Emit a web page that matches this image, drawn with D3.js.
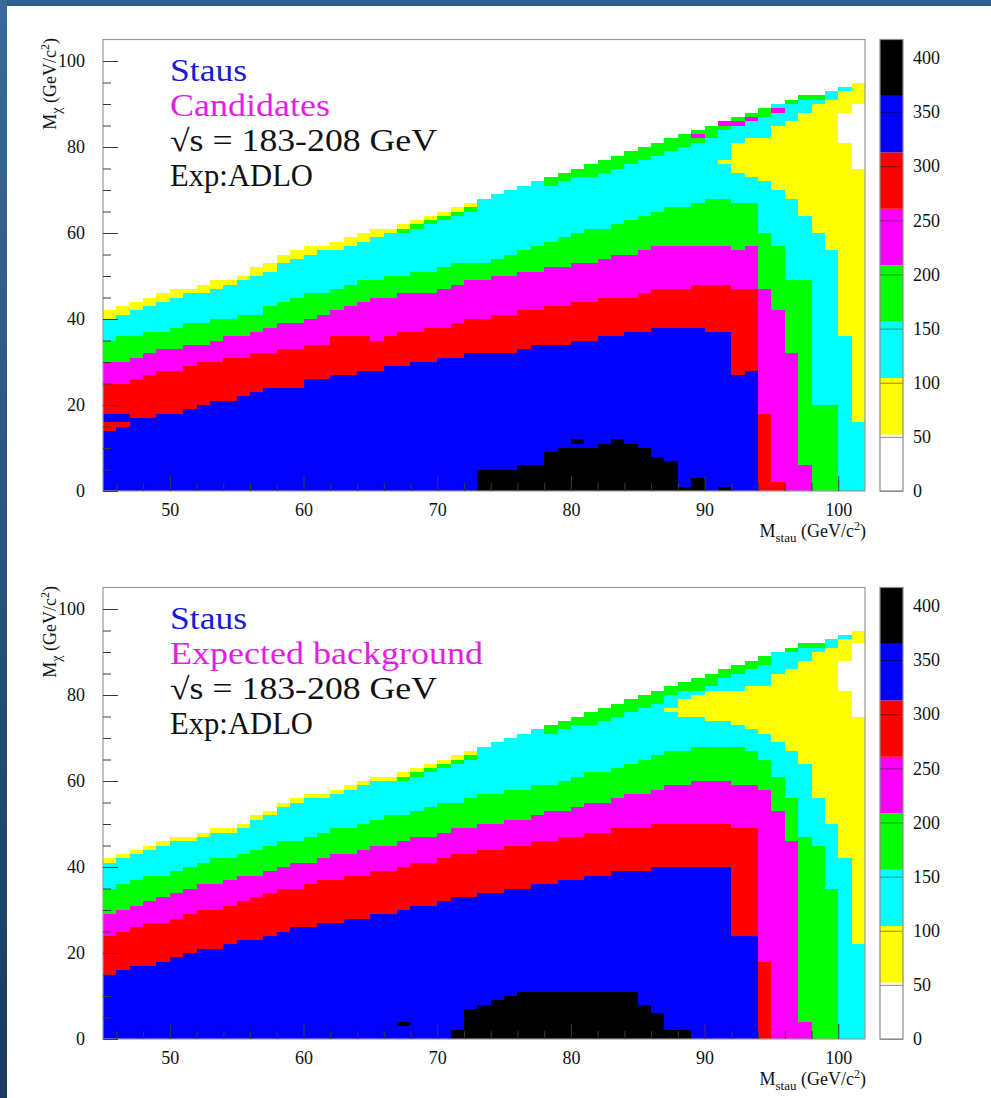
<!DOCTYPE html>
<html><head><meta charset="utf-8">
<script src="https://cdn.jsdelivr.net/npm/d3@7"></script>
<style>
html,body{margin:0;padding:0;background:#fff;}
body{width:991px;height:1098px;overflow:hidden;}
svg{display:block;}
text{font-family:"Liberation Serif","Times New Roman",serif;}
</style></head><body>
<svg id="chart" width="991" height="1098"></svg>
<script>
// ---------- DATA ----------
const binLow = [45,46,47,48,49,50,51,52,53,54,55,56,57,58,59,60,61,62,63,64,65,66,67,68,69,70,71,72,73,74,75,76,77,78,79,80,81,82,83,84,85,86,87,88,89,90,91,92,93,94,95,96,97,98,99,100,101];
const xTicks = [50,60,70,80,90,100];
const yTicks = [0,20,40,60,80,100];
const zTicks = [0,50,100,150,200,250,300,350,400];
const zLevels = [0,52.1,104.3,156.4,208.5,260.6,312.8,364.9,417];
const levelColors = ["#ffffff","#ffff00","#00ffff","#00ff00","#ff00ff","#ff0000","#0000ff","#000000"];

// Candidates panel: top (in GeV/c^2) of each colour band, per 1 GeV M_stau bin
const candBlack  = [0,0,0,0,0,0,0,0,0,0,0,0,0,0,0,0,0,0,0,0,0,0,0,0,0,0,0,0,5,5,5,6,6,9,10,10,10,11,12,11,10,8,7,1,3,0,1,0,0,0,0,0,0,0,0,0,0];
const candBlue   = [14,15,17,17,18,18,19,20,21,21,22,23,24,24,24,26,26,27,27,28,28,29,29,30,30,31,31,32,32,32,32,33,34,34,34,35,35,36,36,37,37,38,38,38,38,37,37,27,28,0,0,0,0,0,0,0,0];
const candRed    = [25,25,26,27,28,28,29,30,30,31,31,32,32,33,33,34,34,36,36,36,35,36,37,37,38,38,39,40,40,41,41,42,42,43,43,44,44,45,45,45,46,47,47,47,48,48,48,47,47,18,2,0,0,0,0,0,0];
const candMagenta= [30,30,31,32,33,33,34,34,35,36,36,37,38,39,39,40,41,42,43,44,45,45,46,46,46,47,48,49,49,50,50,51,51,52,52,53,53,54,55,55,56,57,57,57,57,57,57,56,57,47,42,32,6,0,0,0,0];
const candGreen  = [35,36,36,37,37,38,39,39,40,40,41,41,43,44,45,46,46,47,48,49,49,50,50,51,51,52,53,53,53,54,55,56,57,58,59,60,61,61,62,63,64,65,66,66,67,68,68,67,67,60,57,49,49,20,20,0,0];
const candCyan   = [40,41,42,43,44,45,46,46,47,48,49,50,51,53,54,55,56,56,57,58,59,60,62,63,64,65,66,67,68,69,70,71,72,73,74,75,76,77,78,79,80,81,82,83,84,85,86,74,73,72,70,68,64,60,56,36,16];
const candYellow = [42,43,44,45,46,47,47,48,49,49,50,52,53,55,56,57,57,58,59,60,61,61,62,63,64,65,66,67,68,69,70,71,72,73,74,75,76,77,78,79,80,81,82,83,84,85,86,81,82,82,85,86,88,90,91,81,75];
const candEdge   = [42,43,44,45,46,47,47,48,49,49,50,52,53,55,56,57,57,58,59,60,61,61,62,63,64,65,66,67,68,69,70,71,72,73,74,75,76,77,78,79,80,81,82,83,84,85,86,87,88,89,90,91,92,92,93,94,95];
const candCapLevel = [0,0,0,0,0,0,0,0,0,0,0,0,0,0,0,0,0,0,0,0,0,0,1,1,1,1,1,1,0,0,0,0,0,3,3,3,3,3,3,3,3,3,3,3,3,3,3,3,3,3,2,3,3,3,2,2,1];
const candCapDepth = [0,0,0,0,0,0,0,0,0,0,0,0,0,0,0,0,0,0,0,0,0,0,1,1,1,1,1,1,0,0,0,0,0,2,2,2,3,3,3,3,3,3,3,3,3,3,2,2,2,2,5,1,1,1,2,1,5];
const candSubLevel = [0,0,0,0,0,0,0,0,0,0,0,0,0,0,0,0,0,0,0,0,0,0,3,3,3,3,3,3,0,0,0,0,0,0,0,0,0,0,0,0,0,0,0,0,0,0,0,2,2,2,0,2,2,2,0,1,0];
const candSubDepth = [0,0,0,0,0,0,0,0,0,0,0,0,0,0,0,0,0,0,0,0,0,0,1,1,1,1,1,1,0,0,0,0,0,0,0,0,0,0,0,0,0,0,0,0,0,0,0,4,4,5,0,4,3,1,0,5,0];
// isolated cells: [M_stau bin, y from, y to, level]
const candIslands = [[45,16,18,6],[46,16,18,6],[80,11,12,7],[89,82,83,4],[91,85,86,4],[92,85,86,4],[93,86,87,4],[95,88,89,4],[91,76,77,1]];

// Expected background panel
const bkgBlack  = [0,0,0,0,0,0,0,0,0,0,0,0,0,0,0,0,0,0,0,0,0,0,0,0,0,0,2,7,8,9,10,11,11,11,11,11,11,11,11,11,8,6,2,2,0,0,0,0,0,0,0,0,0,0,0,0,0];
const bkgBlue   = [15,16,17,17,18,19,20,21,21,22,23,23,24,25,26,26,27,27,28,28,29,29,30,31,31,32,33,33,34,34,35,35,36,36,37,37,38,38,39,39,39,40,40,40,40,40,40,24,24,0,0,0,0,0,0,0,0];
const bkgRed    = [24,25,26,27,27,28,29,30,30,31,32,33,34,35,35,36,37,37,38,38,39,39,40,41,41,42,43,43,44,44,45,45,46,46,47,47,48,48,49,49,49,50,50,50,50,50,50,49,49,18,0,0,0,0,0,0,0];
const bkgMagenta= [29,30,31,32,33,34,35,36,36,37,38,38,39,40,41,41,42,43,43,44,45,45,46,47,47,48,49,49,50,50,51,51,52,53,53,54,55,55,56,57,57,58,59,59,60,60,60,59,59,58,53,46,4,0,0,0,0];
const bkgGreen  = [35,36,37,38,38,39,40,41,42,42,43,44,45,46,46,47,48,49,49,50,51,52,52,53,54,55,55,56,57,57,58,58,59,59,60,61,62,62,63,64,65,66,67,67,68,68,68,68,67,65,61,56,47,45,35,0,0];
const bkgCyan   = [41,42,43,44,45,46,46,47,48,48,49,51,52,54,55,56,56,57,58,59,60,60,61,62,63,64,65,66,68,69,70,71,72,73,74,75,76,77,78,79,80,81,76,75,75,74,74,73,72,71,69,67,64,56,50,42,22];
const bkgYellow = [42,43,44,45,46,47,47,48,49,49,50,52,53,55,56,57,57,58,59,60,61,61,62,63,64,65,66,67,68,69,70,71,72,73,74,75,76,77,78,79,80,81,77,79,80,81,81,82,83,83,85,86,88,90,91,81,75];
const bkgEdge   = [42,43,44,45,46,47,47,48,49,49,50,52,53,55,56,57,57,58,59,60,61,61,62,63,64,65,66,67,68,69,70,71,72,73,74,75,76,77,78,79,80,81,82,83,84,85,86,87,88,89,90,91,92,92,93,94,95];
const bkgCapLevel = [0,0,0,0,0,0,0,0,0,0,0,0,0,0,0,0,0,0,0,0,0,0,1,1,1,1,1,1,0,0,0,0,0,3,3,3,3,3,3,3,3,3,3,3,3,3,3,3,3,3,2,3,3,3,2,2,1];
const bkgCapDepth = [0,0,0,0,0,0,0,0,0,0,0,0,0,0,0,0,0,0,0,0,0,0,1,1,1,1,1,1,0,0,0,0,0,2,2,2,3,3,3,3,3,3,2,2,3,3,2,2,2,2,5,1,1,1,2,1,3];
const bkgSubLevel = [0,0,0,0,0,0,0,0,0,0,0,0,0,0,0,0,0,0,0,0,0,0,3,3,3,3,3,3,0,0,0,0,0,0,0,0,0,0,0,0,0,0,2,2,2,2,2,2,2,2,0,2,2,2,0,1,0];
const bkgSubDepth = [0,0,0,0,0,0,0,0,0,0,0,0,0,0,0,0,0,0,0,0,0,0,1,1,1,1,1,1,0,0,0,0,0,0,0,0,0,0,0,0,0,0,3,2,1,1,3,4,4,5,0,4,3,1,0,5,0];
const bkgIslands = [[67,3,4,7]];

// ---------- DRAW ----------
const svg = d3.select("#chart");
const grad = svg.append("defs").append("linearGradient").attr("id","lb").attr("x1",0).attr("y1",0).attr("x2",0).attr("y2",1);
grad.append("stop").attr("offset","0%").attr("stop-color","#3a6a98");
grad.append("stop").attr("offset","100%").attr("stop-color","#1b3a5c");
svg.append("rect").attr("x",0).attr("y",0).attr("width",991).attr("height",6).attr("fill","#2f5f8f");
svg.append("rect").attr("x",0).attr("y",0).attr("width",7).attr("height",1098).attr("fill","url(#lb)");

const panels = [
  {offset:0, label:"Candidates", labelW:160, black:candBlack, blue:candBlue, red:candRed, magenta:candMagenta, green:candGreen, cyan:candCyan, yellow:candYellow, edge:candEdge, capL:candCapLevel, capD:candCapDepth, subL:candSubLevel, subD:candSubDepth, islands:candIslands},
  {offset:548, label:"Expected background", labelW:313, black:bkgBlack, blue:bkgBlue, red:bkgRed, magenta:bkgMagenta, green:bkgGreen, cyan:bkgCyan, yellow:bkgYellow, edge:bkgEdge, capL:bkgCapLevel, capD:bkgCapDepth, subL:bkgSubLevel, subD:bkgSubDepth, islands:bkgIslands}
];

const x = d3.scaleLinear().domain([45,102]).range([103,865]);
const color = d3.scaleOrdinal().domain(d3.range(8)).range(levelColors);

panels.forEach(p => {
  const y = d3.scaleLinear().domain([0,105]).range([491+p.offset, 39.5+p.offset]);
  const zs = d3.scaleLinear().domain([0,417]).range([491+p.offset, 39.5+p.offset]);
  const g = svg.append("g");

  const cells = [];
  binLow.forEach((xl,i) => {
    const tops = [p.black[i],p.blue[i],p.red[i],p.magenta[i],p.green[i],p.cyan[i],p.yellow[i]];
    const lv = [7,6,5,4,3,2,1];
    let prev = 0;
    tops.forEach((t,k) => { if (t > prev) { cells.push({x0:xl, y0:prev, y1:t, level:lv[k]}); prev = t; } });
    if (p.subD[i] > 0) { const y1 = p.edge[i]-p.capD[i]; cells.push({x0:xl, y0:y1-p.subD[i], y1:y1, level:p.subL[i]}); }
    if (p.capD[i] > 0) { cells.push({x0:xl, y0:p.edge[i]-p.capD[i], y1:p.edge[i], level:p.capL[i]}); }
  });
  p.islands.forEach(d => cells.push({x0:d[0], y0:d[1], y1:d[2], level:d[3]}));

  g.append("g").attr("shape-rendering","crispEdges").selectAll("rect").data(cells).join("rect")
    .attr("x", d => Math.round(x(d.x0)))
    .attr("width", d => Math.round(x(d.x0+1)) - Math.round(x(d.x0)))
    .attr("y", d => Math.round(y(d.y1)))
    .attr("height", d => Math.round(y(d.y0)) - Math.round(y(d.y1)))
    .attr("fill", d => color(d.level));

  g.append("rect").attr("x",x(45)).attr("y",y(105)).attr("width",x(102)-x(45)).attr("height",y(0)-y(105))
    .attr("fill","none").attr("stroke","#9a9a9a").attr("stroke-width",1.2);

  const minorY = [5,10,15,25,30,35,45,50,55,65,70,75,85,90,95];
  const minorX = [46,48,52,54,56,58,62,64,66,68,72,74,76,78,82,84,86,88,92,94,96,98];
  const ya = g.append("g").attr("transform",`translate(${x(45)},0)`)
    .call(d3.axisLeft(y).tickValues(yTicks).tickSize(-15).tickPadding(18).tickFormat(d3.format("d")));
  const ym = g.append("g").attr("transform",`translate(${x(45)},0)`)
    .call(d3.axisLeft(y).tickValues(minorY).tickSize(-8).tickFormat(""));
  const xa = g.append("g").attr("transform",`translate(0,${y(0)})`)
    .call(d3.axisBottom(x).tickValues(xTicks).tickSize(-15).tickPadding(12).tickFormat(d3.format("d")));
  const xm = g.append("g").attr("transform",`translate(0,${y(0)})`)
    .call(d3.axisBottom(x).tickValues(minorX).tickSize(-8).tickFormat(""));
  [ya,ym,xa,xm].forEach(a => {
    a.select(".domain").remove();
    a.selectAll(".tick line").attr("stroke","#3a3a3a").attr("stroke-width",1);
    a.selectAll(".tick text").attr("font-family","Liberation Serif, serif").attr("font-size",18).attr("fill","#111");
  });

  const yt = g.append("text").attr("transform",`translate(56,${38+p.offset}) rotate(-90)`)
    .attr("text-anchor","end").attr("font-size",18).attr("fill","#111");
  yt.append("tspan").text("M");
  yt.append("tspan").attr("font-size",14).attr("dy",5).text("χ");
  yt.append("tspan").attr("dy",-5).text(" (GeV/c");
  yt.append("tspan").attr("font-size",12).attr("dy",-7).text("2");
  yt.append("tspan").attr("dy",7).text(")");

  const xt = g.append("text").attr("x",866).attr("y",537+p.offset)
    .attr("text-anchor","end").attr("font-size",18).attr("fill","#111");
  xt.append("tspan").text("M");
  xt.append("tspan").attr("font-size",13).attr("dy",5).text("stau");
  xt.append("tspan").attr("dy",-5).text(" (GeV/c");
  xt.append("tspan").attr("font-size",12).attr("dy",-7).text("2");
  xt.append("tspan").attr("dy",7).text(")");

  // legend block
  const lg = [["Staus","#1a1ad2",77],[p.label,"#e41ee4",p.labelW],["\u221As = 183-208 GeV","#111",267],["Exp:ADLO","#111",143]];
  const lgY = [81,116,151,186];
  lg.forEach((t,k) => g.append("text").attr("x",170).attr("y",lgY[k]+p.offset).attr("font-size",31)
    .attr("textLength",t[2]).attr("lengthAdjust","spacingAndGlyphs").attr("fill",t[1]).text(t[0]));

  const cb = g.append("g");
  cb.selectAll("rect").data(d3.range(8)).join("rect")
    .attr("x",880).attr("width",23)
    .attr("y", k => zs(zLevels[k+1])).attr("height", k => zs(zLevels[k]) - zs(zLevels[k+1]))
    .attr("fill", k => levelColors[k]);
  const za = cb.append("g").attr("transform","translate(903,0)")
    .call(d3.axisRight(zs).tickValues(zTicks).tickSize(-23).tickPadding(10).tickFormat(d3.format("d")));
  za.select(".domain").remove();
  za.selectAll(".tick line").attr("stroke","#000").attr("stroke-opacity",0.45);
  za.selectAll(".tick text").attr("font-family","Liberation Serif, serif").attr("font-size",18).attr("fill","#111");
  cb.append("rect").attr("x",880).attr("y",zs(417)).attr("width",23).attr("height",zs(0)-zs(417))
    .attr("fill","none").attr("stroke","#8a8a8a").attr("stroke-width",1.2);
});
</script></body></html>
